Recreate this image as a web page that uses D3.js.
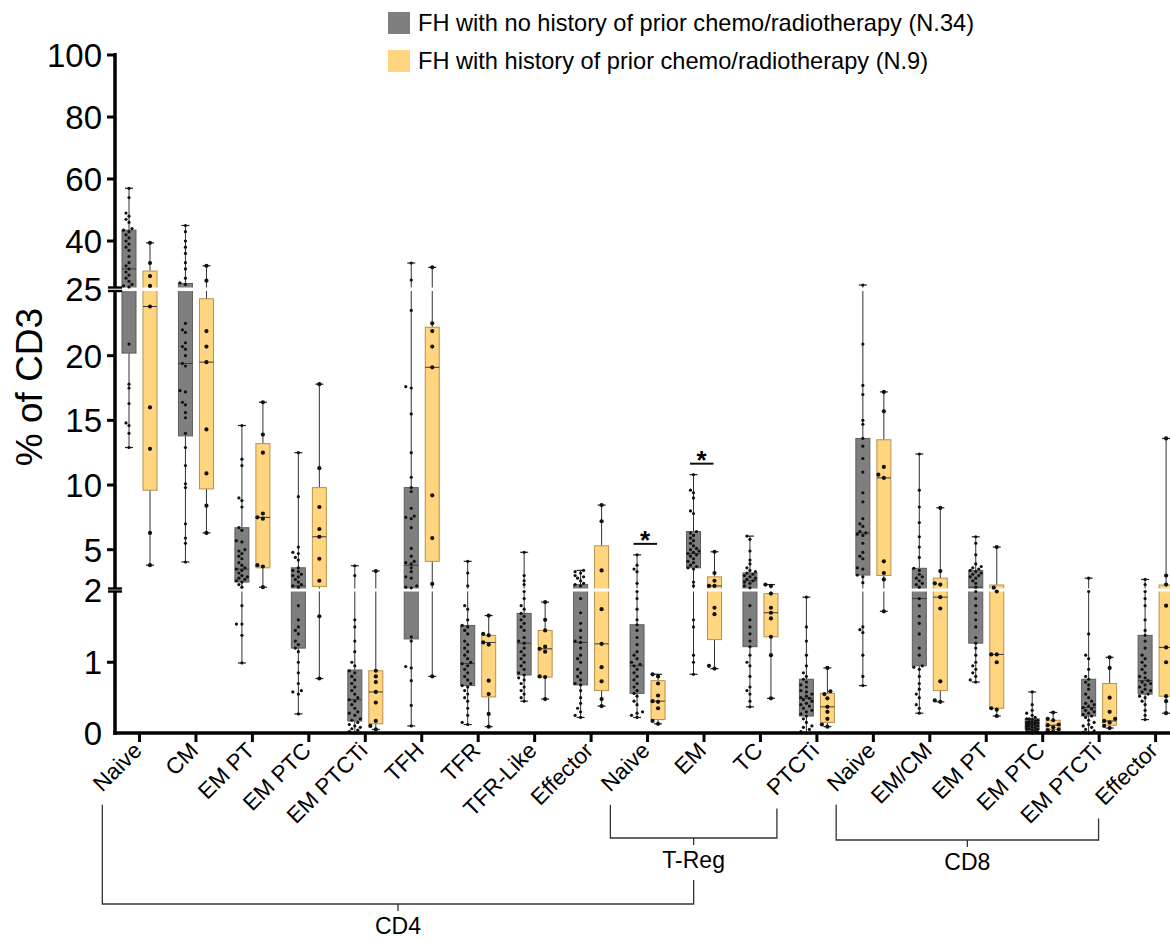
<!DOCTYPE html>
<html>
<head>
<meta charset="utf-8">
<script src="https://cdn.jsdelivr.net/npm/d3@7"></script>
<style>
  body { margin: 0; background: #fff; }
  svg { display: block; font-family: Arial, "Liberation Sans", Helvetica, sans-serif; }
</style>
</head>
<body>
<div id="chart"></div>
<script>
// ---------- data ----------
const categories = ["Naive", "CM", "EM PT", "EM PTC", "EM PTCTi", "TFH", "TFR", "TFR-Like", "Effector",
    "Naive", "EM", "TC", "PTCTi",
    "Naive", "EM/CM", "EM PT", "EM PTC", "EM PTCTi", "Effector"];

const seriesNames = ["FH with no history of prior chemo/radiotherapy (N.34)",
    "FH with history of prior chemo/radiotherapy (N.9)"];

// brackets under the axis: category index ranges
const groups = [
    { name: "T-Reg", first: 9, last: 12 },
    { name: "CD8", first: 13, last: 18 },
    { name: "CD4", first: 0, last: 12 }
];

const yTicks = [0, 1, 2, 5, 10, 15, 20, 25, 40, 60, 80, 100];
const significant = [9, 10]; // categories marked with *

// box stats: [min, q1, median, q3, max]
const noHistStats = [
    [12.9, 20.2, 31, 43.5, 57], [4.05, 13.8, 19.4, 26.3, 45], [0.99, 2.5, 3.5, 6.7, 14.6],
    [0.27, 1.2, 2.2, 3.6, 12.5], [0, 0.17, 0.47, 0.89, 3.76], [0.1, 1.33, 3.8, 9.8, 32.9],
    [0.12, 0.67, 0.98, 1.52, 4.1], [0.45, 0.82, 1.27, 1.69, 4.8], [0.22, 0.68, 1.28, 2.3, 3.4],
    [0.22, 0.56, 0.95, 1.53, 4.6], [0.83, 3.6, 4.7, 6.4, 10.8], [0.37, 1.22, 2.6, 3.2, 6.05],
    [0, 0.24, 0.49, 0.76, 1.92], [0.67, 3.04, 6.3, 13.6, 25.8], [0.28, 0.95, 1.9, 3.56, 12.4],
    [0.72, 1.27, 2.1, 3.4, 6.0], [0, 0.05, 0.14, 0.2, 0.58], [0, 0.24, 0.36, 0.76, 2.8],
    [0.19, 0.55, 0.74, 1.38, 2.7]
];

const histStats = [
    [3.8, 9.6, 23.8, 30.3, 39.4], [6.3, 9.7, 19.5, 24.4, 32], [2.1, 3.6, 7.5, 13.2, 16.4],
    [0.77, 2.16, 6.0, 9.8, 17.8], [0.05, 0.13, 0.58, 0.88, 3.35], [0.8, 4.1, 19.1, 22.2, 31.5],
    [0.09, 0.51, 1.28, 1.38, 1.66], [0.48, 0.79, 1.19, 1.45, 1.85], [0.38, 0.6, 1.26, 5.3, 8.45],
    [0.13, 0.19, 0.45, 0.74, 0.83], [0.91, 1.32, 2.2, 2.9, 4.84], [0.49, 1.36, 1.7, 1.97, 2.3],
    [0.09, 0.15, 0.37, 0.56, 0.92], [1.72, 3.0, 10.55, 13.5, 17.2], [0.44, 0.6, 1.92, 2.8, 8.24],
    [0.24, 0.35, 1.11, 2.27, 5.2], [0.02, 0.05, 0.11, 0.18, 0.29], [0.07, 0.11, 0.17, 0.7, 1.07],
    [0.28, 0.52, 1.21, 2.27, 13.6]
];

// individual values
const noHistPoints = [
    [57, 54, 49, 48, 47, 46, 44, 43.5, 43, 42, 41, 40, 39, 38, 37, 35, 33, 32, 31, 30, 29, 28, 27, 26, 25.5, 25.2, 20.9, 17.8, 17.5, 16.3, 14.8, 14.6, 14, 12.9],
    [45, 43, 40, 38, 36, 33, 31, 28, 26.5, 26, 22.5, 22, 21.8, 21, 20.7, 20.5, 20, 19.4, 19.2, 17.3, 17.2, 16.4, 16.2, 15.6, 15.2, 14, 12.9, 11.5, 10.1, 9.8, 7.0, 5.9, 5.5, 4.05],
    [14.6, 12, 11.5, 9.0, 8.8, 8.3, 6.7, 6.5, 5.7, 5.6, 5.0, 4.9, 4.7, 4.5, 4.3, 4.0, 3.8, 3.6, 3.5, 3.4, 3.2, 3.0, 2.9, 2.8, 2.7, 2.6, 2.5, 2.3, 2.1, 1.8, 1.54, 1.54, 1.38, 0.99],
    [12.5, 9.1, 5.2, 4.8, 4.7, 4.4, 4.2, 3.6, 3.4, 3.3, 3.1, 3.0, 2.9, 2.7, 2.5, 2.3, 2.2, 2.1, 1.8, 1.6, 1.5, 1.45, 1.4, 1.3, 1.25, 1.2, 1.15, 1.0, 0.85, 0.7, 0.6, 0.58, 0.55, 0.27],
    [3.76, 3.0, 1.6, 1.5, 1.3, 1.15, 1.0, 0.95, 0.88, 0.85, 0.8, 0.75, 0.7, 0.65, 0.6, 0.55, 0.5, 0.47, 0.45, 0.4, 0.35, 0.3, 0.28, 0.25, 0.2, 0.18, 0.15, 0.12, 0.1, 0.08, 0.06, 0.04, 0.02, 0],
    [32.9, 27.4, 23.5, 17.6, 17.5, 15.5, 12.5, 10.6, 9.8, 9.5, 8.2, 7.6, 7.5, 7.4, 6.7, 5.1, 4.5, 4.1, 4.0, 3.9, 3.6, 3.3, 2.9, 2.8, 2.2, 2.1, 2.05, 1.36, 1.3, 0.94, 0.92, 0.74, 0.39, 0.1],
    [4.1, 3.2, 2.2, 1.8, 1.75, 1.6, 1.52, 1.5, 1.45, 1.4, 1.3, 1.25, 1.2, 1.15, 1.1, 1.05, 1.0, 0.98, 0.95, 0.9, 0.85, 0.8, 0.75, 0.7, 0.67, 0.65, 0.6, 0.55, 0.5, 0.45, 0.35, 0.25, 0.15, 0.12],
    [4.8, 3.0, 2.6, 2.3, 2.0, 1.9, 1.8, 1.75, 1.69, 1.65, 1.6, 1.55, 1.5, 1.45, 1.35, 1.3, 1.27, 1.2, 1.15, 1.1, 1.05, 1.0, 0.95, 0.9, 0.85, 0.82, 0.78, 0.75, 0.7, 0.65, 0.6, 0.55, 0.5, 0.45],
    [3.4, 3.3, 3.2, 3.0, 2.9, 2.8, 2.6, 2.4, 2.3, 2.2, 1.9, 1.7, 1.55, 1.45, 1.35, 1.3, 1.28, 1.2, 1.1, 1.05, 1.0, 0.9, 0.85, 0.8, 0.75, 0.7, 0.68, 0.6, 0.5, 0.42, 0.35, 0.3, 0.25, 0.22],
    [4.6, 3.8, 3.5, 3.3, 2.4, 2.0, 1.9, 1.75, 1.6, 1.53, 1.45, 1.35, 1.25, 1.15, 1.1, 1.05, 1.0, 0.97, 0.95, 0.9, 0.85, 0.8, 0.75, 0.7, 0.65, 0.6, 0.56, 0.52, 0.45, 0.4, 0.3, 0.28, 0.25, 0.22],
    [10.8, 9.6, 9.4, 9.0, 8.0, 7.8, 6.4, 6.3, 6.1, 5.9, 5.7, 5.5, 5.3, 5.1, 5.0, 4.9, 4.8, 4.7, 4.6, 4.5, 4.3, 4.1, 4.0, 3.8, 3.7, 3.6, 3.5, 2.5, 2.2, 1.6, 1.5, 1.1, 1.0, 0.83],
    [6.05, 5.8, 4.9, 4.2, 3.9, 3.6, 3.4, 3.3, 3.2, 3.1, 3.0, 2.9, 2.8, 2.7, 2.6, 2.5, 2.4, 2.2, 2.05, 1.8, 1.6, 1.5, 1.4, 1.3, 1.22, 1.1, 1.0, 0.95, 0.8, 0.65, 0.6, 0.55, 0.45, 0.37],
    [1.92, 1.5, 1.3, 1.1, 0.95, 0.85, 0.8, 0.76, 0.72, 0.68, 0.65, 0.6, 0.58, 0.55, 0.52, 0.5, 0.49, 0.47, 0.45, 0.42, 0.4, 0.38, 0.35, 0.32, 0.3, 0.27, 0.24, 0.2, 0.15, 0.1, 0.08, 0.05, 0.02, 0],
    [25.8, 20.9, 17.7, 17.0, 15.0, 14.7, 13.6, 13.0, 12.05, 11.0, 9.4, 8.7, 7.4, 7.0, 6.8, 6.4, 6.3, 6.2, 6.1, 5.5, 4.8, 4.5, 4.3, 3.6, 3.5, 3.04, 2.9, 2.45, 1.5, 1.46, 1.42, 1.1, 0.8, 0.67],
    [12.4, 9.6, 8.3, 7.1, 6.0, 5.2, 4.4, 3.56, 3.4, 3.1, 2.9, 2.8, 2.6, 2.4, 2.3, 2.1, 1.9, 1.8, 1.65, 1.55, 1.4, 1.2, 1.1, 0.95, 0.93, 0.9, 0.8, 0.7, 0.62, 0.55, 0.5, 0.4, 0.35, 0.28],
    [6.0, 5.5, 4.6, 3.9, 3.7, 3.6, 3.5, 3.4, 3.3, 3.2, 3.1, 3.0, 2.9, 2.8, 2.6, 2.4, 2.1, 2.0, 1.9, 1.8, 1.7, 1.6, 1.5, 1.35, 1.27, 1.2, 1.1, 1.0, 0.95, 0.9, 0.85, 0.8, 0.75, 0.72],
    [0.58, 0.4, 0.32, 0.28, 0.25, 0.22, 0.2, 0.2, 0.19, 0.18, 0.17, 0.16, 0.15, 0.15, 0.14, 0.14, 0.13, 0.12, 0.12, 0.11, 0.1, 0.1, 0.09, 0.08, 0.07, 0.06, 0.05, 0.05, 0.04, 0.03, 0.02, 0.01, 0.01, 0],
    [2.8, 2.0, 1.4, 1.1, 1.05, 0.9, 0.8, 0.76, 0.72, 0.68, 0.62, 0.55, 0.5, 0.45, 0.42, 0.4, 0.38, 0.36, 0.34, 0.32, 0.3, 0.28, 0.26, 0.24, 0.22, 0.18, 0.15, 0.12, 0.1, 0.08, 0.05, 0.03, 0.01, 0],
    [2.7, 2.3, 2.0, 1.9, 1.8, 1.6, 1.45, 1.38, 1.3, 1.2, 1.1, 1.05, 1.0, 0.95, 0.9, 0.85, 0.8, 0.78, 0.74, 0.72, 0.7, 0.68, 0.65, 0.62, 0.6, 0.58, 0.55, 0.52, 0.5, 0.45, 0.4, 0.32, 0.25, 0.19]
];

const histPoints = [
    [39.4, 32.9, 28.7, 25.5, 23.8, 16, 12.8, 6.3, 3.8],
    [32, 27.2, 21.9, 20.7, 19.5, 14.3, 10.9, 8.4, 6.3],
    [16.4, 13.9, 12.5, 7.8, 7.5, 7.4, 3.8, 3.7, 2.1],
    [17.8, 11.3, 8.3, 6.6, 6.0, 4.3, 2.6, 1.65, 0.77],
    [3.35, 0.88, 0.8, 0.72, 0.58, 0.43, 0.17, 0.1, 0.05],
    [31.5, 22.5, 21.9, 20.7, 19.1, 9.2, 5.9, 2.35, 0.8],
    [1.66, 1.4, 1.38, 1.28, 1.25, 0.74, 0.55, 0.27, 0.09],
    [1.85, 1.6, 1.45, 1.22, 1.19, 1.15, 0.8, 0.79, 0.48],
    [8.45, 7.2, 3.4, 1.75, 1.26, 0.93, 0.73, 0.48, 0.38],
    [0.83, 0.8, 0.7, 0.53, 0.45, 0.44, 0.35, 0.17, 0.13],
    [4.84, 3.2, 2.6, 2.2, 2.2, 1.77, 1.68, 0.95, 0.91],
    [2.3, 2.2, 1.97, 1.77, 1.7, 1.62, 1.36, 1.1, 0.49],
    [0.92, 0.59, 0.55, 0.49, 0.37, 0.3, 0.2, 0.12, 0.09],
    [17.2, 15.7, 11.4, 10.8, 10.55, 4.1, 3.2, 2.7, 1.72],
    [8.24, 3.35, 2.4, 2.3, 1.92, 1.76, 0.73, 0.46, 0.44],
    [5.2, 2.06, 2.0, 1.11, 1.11, 1.0, 0.35, 0.33, 0.24],
    [0.29, 0.2, 0.18, 0.12, 0.11, 0.08, 0.05, 0.04, 0.02],
    [1.07, 0.92, 0.5, 0.3, 0.2, 0.17, 0.15, 0.1, 0.07],
    [13.6, 3.0, 2.3, 1.8, 1.21, 1.0, 0.52, 0.45, 0.28]
];

// ---------- layout ----------
const width = 1170, height = 941;
const axisX = 115, axisY = 733;
const colors = ["#7f7f7f", "#ffd580"];
const strokes = ["#5c5c5c", "#b8914a"];
const boxW = 14, boxOff = 10.5;

const svg = d3.select("#chart").append("svg")
    .attr("width", width)
    .attr("height", height);

// segmented y axis: [0,2] [2,25] [25,100]
const yLow = d3.scaleLinear().domain([0, 2]).range([axisY, 591.5]);
const yMid = d3.scaleLinear().domain([2, 25]).range([588.5, 291]);
const yTop = d3.scaleLinear().domain([25, 100]).range([287.5, 55]);
function y(v) {
    if (v <= 2) return yLow(v);
    if (v <= 25) return yMid(v);
    return yTop(v);
}

const x = d3.scalePoint()
    .domain(d3.range(categories.length))
    .range([139.5, 139.5 + 56.45 * (categories.length - 1)]);

// ---------- boxes ----------
const series = [
    { stats: noHistStats, points: noHistPoints, off: -boxOff, r: 1.6 },
    { stats: histStats, points: histPoints, off: boxOff, r: 2.1 }
];

const boxLayer = svg.append("g");
series.forEach((s, si) => {
    s.stats.forEach((st, i) => {
        const cx = x(i) + s.off;
        const g = boxLayer.append("g");
        // whiskers
        g.append("line").attr("x1", cx).attr("x2", cx).attr("y1", y(st[4])).attr("y2", y(st[3]))
            .attr("stroke", "#333").attr("stroke-width", 1);
        g.append("line").attr("x1", cx).attr("x2", cx).attr("y1", y(st[1])).attr("y2", y(st[0]))
            .attr("stroke", "#333").attr("stroke-width", 1);
        [st[0], st[4]].forEach(v => {
            g.append("line").attr("x1", cx - 4).attr("x2", cx + 4).attr("y1", y(v)).attr("y2", y(v))
                .attr("stroke", "#222").attr("stroke-width", 1.2);
        });
        // box
        g.append("rect")
            .attr("x", cx - boxW / 2).attr("y", y(st[3]))
            .attr("width", boxW).attr("height", Math.max(1, y(st[1]) - y(st[3])))
            .attr("fill", colors[si]).attr("stroke", strokes[si]).attr("stroke-width", 1);
        // median
        g.append("line").attr("x1", cx - boxW / 2).attr("x2", cx + boxW / 2)
            .attr("y1", y(st[2])).attr("y2", y(st[2]))
            .attr("stroke", "#3a3a3a").attr("stroke-width", 1);
    });
});

// white gaps at the axis breaks
[[287.5, 291], [588.5, 591.5]].forEach(b => {
    svg.append("rect").attr("x", axisX + 2).attr("y", b[0])
        .attr("width", width).attr("height", b[1] - b[0]).attr("fill", "#fff");
});

// ---------- points (simple swarm) ----------
function swarm(vals, cx, r) {
    const placed = [];
    const offs = [0, -3, 3, -5.5, 5.5];
    vals.slice().sort((a, b) => a - b).forEach(v => {
        const py = y(v);
        let best = 0, bestD = -1;
        for (const o of offs) {
            let d = Infinity;
            placed.forEach(p => { d = Math.min(d, Math.hypot(p.x - (cx + o), p.y - py)); });
            if (d >= r * 2 + 0.6) { best = o; bestD = d; break; }
            if (d > bestD) { bestD = d; best = o; }
        }
        placed.push({ x: cx + best, y: py });
    });
    return placed;
}

series.forEach(s => {
    s.points.forEach((vals, i) => {
        const pts = swarm(vals, x(i) + s.off, s.r);
        svg.append("g").selectAll("circle")
            .data(pts)
            .enter()
            .append("circle")
            .attr("cx", d => d.x)
            .attr("cy", d => d.y)
            .attr("r", s.r)
            .attr("fill", "#111");
    });
});

// ---------- significance ----------
significant.forEach(i => {
    const top = Math.min(y(noHistStats[i][4]), y(histStats[i][4])) - 11;
    svg.append("line")
        .attr("x1", x(i) - 14).attr("x2", x(i) + 9.5)
        .attr("y1", top).attr("y2", top)
        .attr("stroke", "#111").attr("stroke-width", 2);
    svg.append("text")
        .attr("x", x(i) - 2.5).attr("y", top + 5)
        .attr("text-anchor", "middle")
        .attr("font-size", 26).attr("font-weight", "bold")
        .text("*");
});

// ---------- axes ----------
const axisStroke = 3.5;
// y axis segments
[[53, 287.5], [291, 588.5], [591.5, axisY + 1.75]].forEach(seg => {
    svg.append("line").attr("x1", axisX).attr("x2", axisX).attr("y1", seg[0]).attr("y2", seg[1])
        .attr("stroke", "#000").attr("stroke-width", axisStroke);
});
// break marks
[287.5, 291, 588.5, 591.5].forEach(by => {
    svg.append("line").attr("x1", 108).attr("x2", 122).attr("y1", by).attr("y2", by)
        .attr("stroke", "#000").attr("stroke-width", 2.4);
});

yTicks.forEach(t => {
    let ty = y(t);
    if (t === 25) ty = 289.2;
    if (t === 2) ty = 590;
    if (t !== 25 && t !== 2 && t !== 0) {
        svg.append("line").attr("x1", 107).attr("x2", axisX).attr("y1", ty).attr("y2", ty)
            .attr("stroke", "#000").attr("stroke-width", 3);
    }
    svg.append("text")
        .attr("x", 102).attr("y", ty)
        .attr("dy", "0.36em")
        .attr("text-anchor", "end")
        .attr("font-size", 33)
        .text(t);
});

svg.append("text")
    .attr("transform", "translate(42,387) rotate(-90)")
    .attr("text-anchor", "middle")
    .attr("font-size", 37)
    .text("% of CD3");

// x axis
svg.append("line").attr("x1", axisX - 1.75).attr("x2", width).attr("y1", axisY).attr("y2", axisY)
    .attr("stroke", "#000").attr("stroke-width", axisStroke);

const labelY = 752, labelFont = 22.5;
const tickLabels = [];
categories.forEach((c, i) => {
    svg.append("line").attr("x1", x(i)).attr("x2", x(i)).attr("y1", axisY).attr("y2", axisY + 9)
        .attr("stroke", "#000").attr("stroke-width", 3);
    const t = svg.append("text")
        .attr("transform", `translate(${x(i) + 3.5},${labelY}) rotate(-45)`)
        .attr("text-anchor", "end")
        .attr("font-size", labelFont)
        .text(c);
    tickLabels.push(t.node().getComputedTextLength() * Math.SQRT1_2);
});

// ---------- group brackets ----------
function labelStart(i) {
    return { x: x(i) + 3.5 - tickLabels[i], y: labelY + tickLabels[i] + 12 };
}
const bracketLevels = { "T-Reg": 838, "CD8": 840, "CD4": 904 };
const bracketNudge = { "T-Reg": 1, "CD8": -6, "CD4": 0 };
const groupCenter = {};
groups.forEach(g => {
    const a = labelStart(g.first);
    const level = bracketLevels[g.name];
    let bx, by;
    if (g.name === "CD4") {
        bx = groupCenter["T-Reg"].x;
        by = groupCenter["T-Reg"].bottom;
    } else {
        const b = labelStart(g.last);
        bx = b.x + bracketNudge[g.name]; by = b.y;
    }
    svg.append("path")
        .attr("d", `M${a.x},${a.y}V${level}H${bx}V${by}`)
        .attr("fill", "none").attr("stroke", "#333").attr("stroke-width", 1.3);
    const mid = (a.x + bx) / 2;
    svg.append("line").attr("x1", mid).attr("x2", mid).attr("y1", level).attr("y2", level + 7)
        .attr("stroke", "#333").attr("stroke-width", 1.3);
    svg.append("text")
        .attr("x", mid).attr("y", level + 30)
        .attr("text-anchor", "middle")
        .attr("font-size", 23)
        .text(g.name);
    groupCenter[g.name] = { x: mid, bottom: level + 42 };
});

// ---------- legend ----------
seriesNames.forEach((name, i) => {
    const ly = 12 + i * 38;
    svg.append("rect").attr("x", 388).attr("y", ly).attr("width", 22).attr("height", 22)
        .attr("fill", colors[i]);
    svg.append("text")
        .attr("x", 418).attr("y", ly + 11)
        .attr("dy", "0.36em")
        .attr("font-size", 23.6)
        .text(name);
});
</script>
</body>
</html>
